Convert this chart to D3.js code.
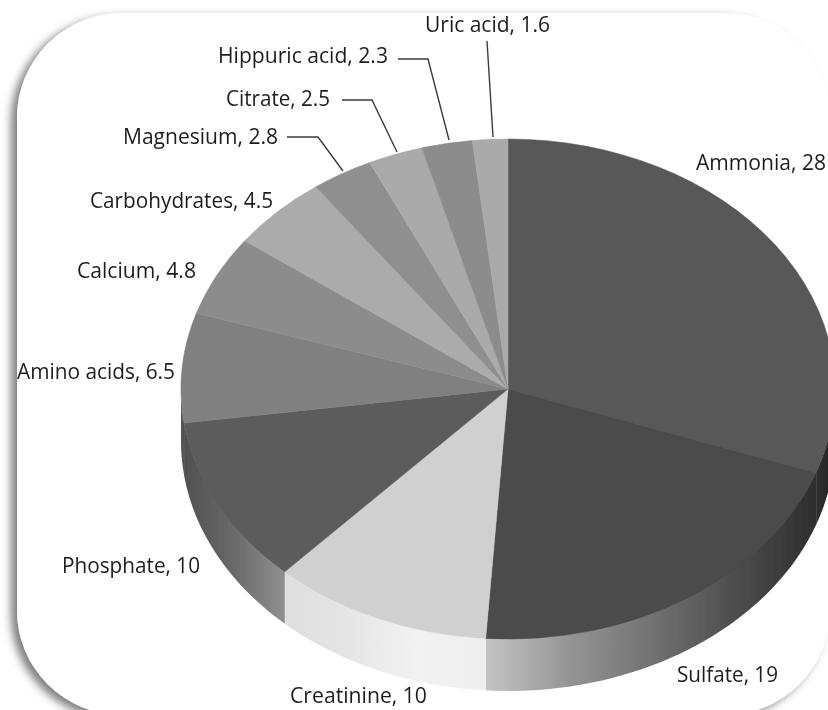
<!DOCTYPE html>
<html><head><meta charset="utf-8">
<script src="https://cdn.jsdelivr.net/npm/d3@7"></script>
<style>html,body{margin:0;padding:0;background:#fff;overflow:hidden}svg{display:block}</style>
</head><body><svg id="c" width="828" height="710"></svg>
<script>
const categories=["Ammonia","Sulfate","Creatinine","Phosphate","Amino acids","Calcium","Carbohydrates","Magnesium","Citrate","Hippuric acid","Uric acid"];
const values=[28,19,10,10,6.5,4.8,4.5,2.8,2.5,2.3,1.6];
const topColors=["#585858","#4b4b4b","#d0d0d0","#5c5c5c","#808080","#8c8c8c","#ababab","#8f8f8f","#aaaaaa","#8c8c8c","#aaaaaa"];
const wallStops=[["#303030","#222222"],["#c4c4c4","#959595","#727272","#4e4e4e","#2e2e2e"],["#dedede","#e6e6e6","#f2f2f2","#eeeeee"],["#505050","#6a6a6a","#909090"],["#555555","#555555"]];
const labelX=[696,677,290,62,17,77,90,123,226,218,425];
const labelY=[170,682,703,573,379,278,208,144,106,63,32];
const labelW=[130,101,137,138,158,119,183,155,104,170,125];
const leaders=[[398,59,428,59,449,140],[342,100,372,100,397,152],[287,137,318,137,343,171],[487,41,493,137]];

const svg=d3.select("#c");
const cx=508,cy=389,rx=327,ry=250,depth=52;
const defs=svg.append("defs");
const f=defs.append("filter").attr("id","sh").attr("x","-10%").attr("y","-10%").attr("width","120%").attr("height","120%");
f.append("feDropShadow").attr("dx",-6).attr("dy",4).attr("stdDeviation",4).attr("flood-color","#000").attr("flood-opacity",.5);
const b=defs.append("filter").attr("id","soft");
b.append("feGaussianBlur").attr("stdDeviation",.5);
svg.append("rect").attr("x",17).attr("y",13).attr("width",813).attr("height",702).attr("rx",105).attr("fill","#fff").attr("filter","url(#sh)");

const pie=d3.pie().sort(null).value(d=>d)(values);
const yScale=d3.scaleLinear().domain([0,1]).range([0,ry]);
const xScale=d3.scaleLinear().domain([0,1]).range([0,rx]);
const pt=(a,dy)=>[cx+xScale(Math.sin(a)),cy-yScale(Math.cos(a))+dy];
const chart=svg.append("g").attr("filter","url(#soft)");
pie.forEach((p,i)=>{
  const a0=Math.max(p.startAngle,Math.PI/2),a1=Math.min(p.endAngle,Math.PI*1.5);
  if(a1<=a0)return;
  const id="w"+i;
  const [xa]=pt(a0,0),[xb]=pt(a1,0);
  const stops=wallStops[i];
  const g=defs.append("linearGradient").attr("id",id).attr("gradientUnits","userSpaceOnUse")
    .attr("x1",Math.min(xa,xb)).attr("x2",Math.max(xa,xb)).attr("y1",0).attr("y2",0);
  stops.forEach((c,k)=>g.append("stop").attr("offset",k/(stops.length-1)).attr("stop-color",c));
  const as=d3.range(0,41).map(k=>a0+(a1-a0)*k/40);
  const pts=[...as.map(a=>pt(a,-1)),...as.slice().reverse().map(a=>pt(a,depth))];
  chart.append("path").attr("d",d3.line()(pts)+"Z").attr("fill",`url(#${id})`);
});
const arc=d3.arc().innerRadius(0).outerRadius(rx);
chart.append("g").attr("transform",`translate(${cx},${cy}) scale(1,${ry/rx})`)
  .selectAll("path").data(pie).join("path").attr("d",arc)
  .attr("fill",(d,i)=>topColors[i]).attr("stroke",(d,i)=>topColors[i]).attr("stroke-width",.6);
chart.selectAll(".l").data(leaders).join("polyline").attr("class","l")
  .attr("points",d=>d.join(",")).attr("fill","none").attr("stroke","#3a3a3a").attr("stroke-width",1.4);
const texts=svg.append("g").attr("filter","url(#soft)");
texts.selectAll("text").data(categories).join("text")
  .attr("x",(d,i)=>labelX[i]).attr("y",(d,i)=>labelY[i])
  .attr("font-family","'Open Sans',sans-serif").attr("font-size",21).attr("fill","#1e1e1e")
  .attr("textLength",(d,i)=>labelW[i]).attr("lengthAdjust","spacingAndGlyphs")
  .text((d,i)=>`${d}, ${values[i]}`);
</script></body></html>
